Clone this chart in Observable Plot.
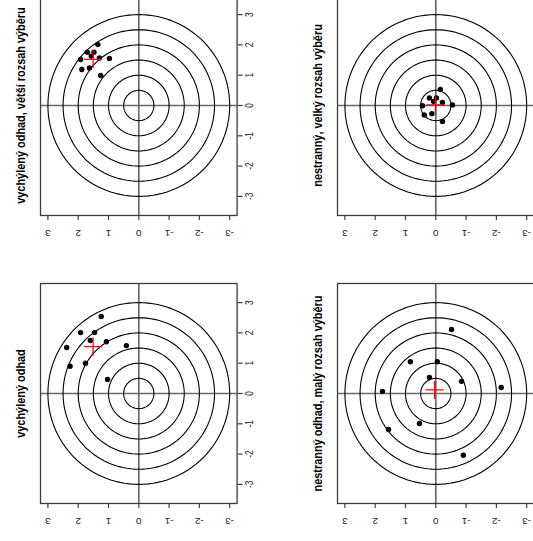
<!DOCTYPE html>
<html><head><meta charset="utf-8">
<script src="https://cdn.jsdelivr.net/npm/d3@7"></script>
<script src="https://cdn.jsdelivr.net/npm/@observablehq/plot@0.6"></script>
<style>
html,body{margin:0;padding:0;background:#fff;}
#chart{position:relative;width:533px;height:541px;overflow:hidden;background:#fff;}
.panel{position:absolute;}
</style></head><body><div id="chart"></div>
<script>
// ---- data ----
// v = value on the right-hand axis, h = value on the bottom axis
const tickValues = [-3, -2, -1, 0, 1, 2, 3];
const tickLabels = ["-3", "-2", "-1", "0", "1", "2", "3"];
const ringRadii = [0.5, 1, 1.5, 2, 2.5, 3];

const titles = [
  "vychýlený odhad, větší rozsah výběru",
  "nestranný, velký rozsah výběru",
  "vychýlený odhad",
  "nestranný odhad, malý rozsah výběru"
];

const biasedLargeV = [2.01, 1.76, 1.76, 1.63, 1.52, 1.57, 1.55, 1.19, 1.24, 0.99];
const biasedLargeH = [1.35, 1.70, 1.48, 1.57, 1.92, 1.30, 0.97, 1.88, 1.63, 1.26];

const unbiasedLargeV = [0.53, 0.25, 0.25, 0.13, 0.10, -0.01, 0.02, -0.31, -0.27, -0.53];
const unbiasedLargeH = [-0.15, 0.21, -0.02, 0.07, -0.22, 0.44, -0.55, 0.38, 0.13, -0.22];

const biasedV = [2.54, 2.01, 2.01, 1.75, 1.71, 1.52, 1.58, 0.90, 1.00, 0.46];
const biasedH = [1.24, 1.92, 1.46, 1.60, 1.07, 2.38, 0.41, 2.27, 1.76, 1.03];

const unbiasedSmallV = [2.11, 1.05, 1.05, 0.53, 0.40, 0.07, 0.20, -1.19, -0.99, -2.04];
const unbiasedSmallH = [-0.52, 0.84, -0.05, 0.21, -0.85, 1.76, -2.16, 1.56, 0.54, -0.91];

// red cross = mean of each sample
const crossV = [1.52, 0.02, 1.55, 0.12];
const crossH = [1.51, 0.01, 1.51, 0.04];

// ---- layout ----
const PX = 30.3;            // pixels per unit
const FW = 196.6, FH = 220; // frame size
const HX = FW / 2 / PX, HY = FH / 2 / PX;
const ml = 40, mr = 40, mt = 10, mb = 30;
const SQ = 0.84;            // the picture is squeezed vertically
const panels = [
  {title: titles[0], v: biasedLargeV,   h: biasedLargeH,   c: 0, left: 39.8,  top: -4.7,  rightLabels: true},
  {title: titles[1], v: unbiasedLargeV, h: unbiasedLargeH, c: 1, left: 337.4, top: -4.7,  rightLabels: false},
  {title: titles[2], v: biasedV,        h: biasedH,        c: 2, left: 39.8,  top: 283.3, rightLabels: true},
  {title: titles[3], v: unbiasedSmallV, h: unbiasedSmallH, c: 3, left: 337.4, top: 283.3, rightLabels: false}
];

const font = "'Liberation Sans', Arial, Helvetica, sans-serif";
const chart = document.getElementById("chart");

function squeeze(svg, cls, sx, sy) {
  d3.select(svg).selectAll(`g.${cls} text`).each(function() {
    const t = this.getAttribute("transform") || "";
    this.setAttribute("transform", `${t} scale(${sx},${sy})`);
  });
}

for (const p of panels) {
  const pts = p.v.map((v, i) => ({v, h: p.h[i]}));
  const rings = ringRadii.flatMap(r => d3.range(0, 361, 3).map(a => ({
    r, h: r * Math.cos(a * Math.PI / 180), v: r * Math.sin(a * Math.PI / 180)
  })));
  const ticks = tickValues.map((t, i) => ({t, label: tickLabels[i]}));
  const W = ml + FW + mr, H = mt + FH + mb;
  const svg = Plot.plot({
    width: W, height: H,
    marginLeft: ml, marginRight: mr, marginTop: mt, marginBottom: mb,
    x: {domain: [HX, -HX], axis: null},
    y: {domain: [-HY, HY], axis: null},
    style: {fontFamily: font, background: "transparent", overflow: "visible", maxWidth: "none", color: "black"},
    marks: [
      Plot.ruleY([0], {stroke: "#6a6a6a", strokeWidth: 1.7}),
      Plot.ruleX([0], {stroke: "#6a6a6a", strokeWidth: 1.7}),
      Plot.line(rings, {x: "h", y: "v", z: "r", stroke: "black", strokeWidth: 1.1, curve: "linear"}),
      Plot.dot(pts, {x: "h", y: "v", r: 2.7, fill: "black", stroke: "none"}),
      Plot.dot([{h: crossH[p.c], v: crossV[p.c]}], {x: "h", y: "v", symbol: "plus", r: 5.8, stroke: "red", strokeWidth: 1.3}),
      Plot.frame({stroke: "#3c3c3c", strokeWidth: 1.3}),
      Plot.axisX(tickValues, {anchor: "bottom", tickSize: 5, fill: "none", stroke: "#3c3c3c", strokeWidth: 1.2}),
      Plot.axisY(tickValues, {anchor: "right", tickSize: 5, fill: "none", stroke: "#3c3c3c", strokeWidth: 1.2}),
      Plot.text(ticks, {x: "t", text: "label", frameAnchor: "bottom", dy: 17, rotate: 180, fontSize: 10, fill: "#222", textAnchor: "middle", lineAnchor: "middle", className: "blab"}),
      p.rightLabels ? Plot.text(ticks, {y: "t", text: "label", frameAnchor: "right", dx: 13, rotate: -90, fontSize: 10, fill: "#222", textAnchor: "middle", lineAnchor: "middle", className: "rlab"}) : null,
      Plot.text([p.title], {text: d => d, frameAnchor: "left", dx: -20, rotate: -90, fontSize: 13, fontWeight: "bold", fill: "black", textAnchor: "middle", lineAnchor: "middle", className: "ttl"})
    ]
  });
  // the reference picture is squeezed along its vertical direction
  squeeze(svg, "ttl", SQ, 1);
  squeeze(svg, "rlab", SQ, 1);
  squeeze(svg, "blab", 1, SQ);
  const div = document.createElement("div");
  div.className = "panel";
  div.style.left = (p.left - ml) + "px";
  div.style.top = (p.top - mt) + "px";
  div.style.width = W + "px";
  div.style.height = H + "px";
  div.appendChild(svg);
  chart.appendChild(div);
}
</script>
</body></html>
